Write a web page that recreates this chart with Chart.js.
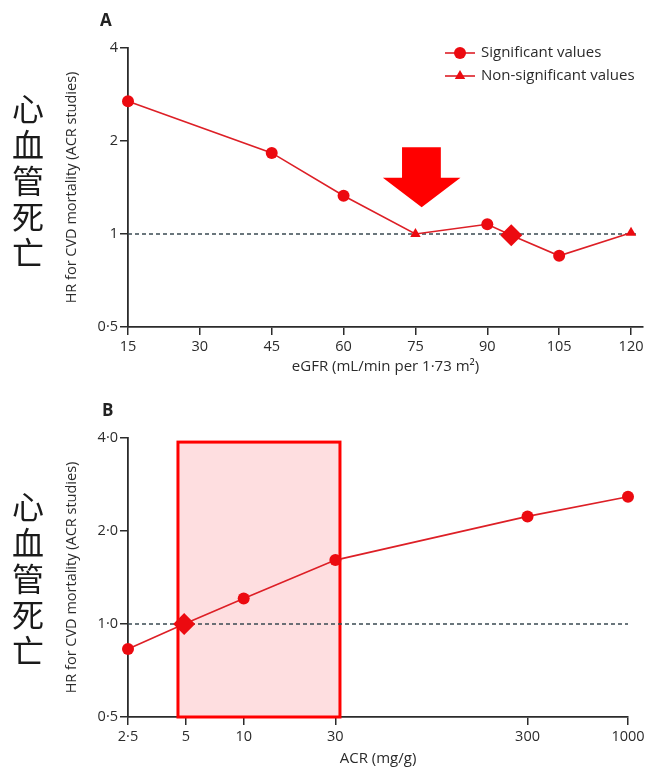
<!DOCTYPE html>
<html>
<head>
<meta charset="utf-8">
<script src="https://cdn.jsdelivr.net/npm/chart.js@4"></script>
<style>
  body { margin: 0; background: #fff; }
  #wrap { position: relative; width: 649px; height: 771px; overflow: hidden; }
  canvas { position: absolute; left: 0; }
  .cn { position: absolute; left: 10px; width: 36px; text-align: center; font-family: "Noto Sans CJK SC"; font-size: 32px; line-height: 36px; color: #1a1a1a; }
  .tag { position: absolute; font-family: "Open Sans", sans-serif; font-weight: bold; font-size: 17px; color: #222; }
</style>
</head>
<body>
<div id="wrap">
  <canvas id="chartA" width="649" height="385" style="top:0"></canvas>
  <canvas id="chartB" width="649" height="386" style="top:385px"></canvas>
  <div class="tag" style="left:100px;top:8px">A</div>
  <div class="tag" style="left:102px;top:398px">B</div>
  <div class="cn" style="top:89px">心<br>血<br>管<br>死<br>亡</div>
  <div class="cn" style="top:487px">心<br>血<br>管<br>死<br>亡</div>
</div>
<script>
// ── data ──────────────────────────────────────────────────────────────
const egfrX      = [15, 45, 60, 75, 90, 95, 105, 120];
const egfrHR     = [2.69, 1.83, 1.33, 1.0, 1.075, 0.99, 0.85, 1.01];
const egfrMarker = ['circle', 'circle', 'circle', 'triangle', 'circle', 'rectRot', 'circle', 'triangle'];
const egfrTicks  = [15, 30, 45, 60, 75, 90, 105, 120];
const egfrLabels = ['15', '30', '45', '60', '75', '90', '105', '120'];

const acrX      = [2.5, 4.9, 10, 30, 300, 1000];
const acrHR     = [0.83, 1.0, 1.21, 1.61, 2.23, 2.58];
const acrMarker = ['circle', 'rectRot', 'circle', 'circle', 'circle', 'circle'];
const acrTicks  = [2.5, 5, 10, 30, 300, 1000];
const acrLabels = ['2·5', '5', '10', '30', '300', '1000'];

const hrTicks   = [0.5, 1, 2, 4];
const hrLabelsA = ['0·5', '1', '2', '4'];
const hrLabelsB = ['0·5', '1·0', '2·0', '4·0'];

const refLineA = [15, 121.5];
const refLineB = [2.5, 1000];

// arrow on panel A (data units): shaft x, head x, y of top / neck / tip
const arrowShaftX = [72.2, 80.3];
const arrowHeadX  = [68.2, 84.4];
const arrowY      = [1.91, 1.52, 1.22];

// highlighted ACR range on panel B (data units)
const boxX = [4.55, 31.7];
const boxY = [0.5, 3.88];

const legendItems = [
  { text: 'Significant values', style: 'circle' },
  { text: 'Non-significant values', style: 'triangle' },
];

// ── style ─────────────────────────────────────────────────────────────
const FONT = '"Open Sans", Lato, sans-serif';
const INK = '#2b2b2b';
const LINE_RED = '#dd1f26';
const POINT_RED = '#ec0a10';
const DASH = '#3a4a52';

const sizeFor = s => s === 'rectRot' ? 11 : 6;

// arrow pointing at eGFR 75
const arrowPlugin = {
  id: 'arrowA',
  beforeDatasetsDraw(chart) {
    const { ctx, scales: { x, y } } = chart;
    const sx0 = x.getPixelForValue(arrowShaftX[0]), sx1 = x.getPixelForValue(arrowShaftX[1]);
    const hx0 = x.getPixelForValue(arrowHeadX[0]),  hx1 = x.getPixelForValue(arrowHeadX[1]);
    const yTop = y.getPixelForValue(arrowY[0]), yNeck = y.getPixelForValue(arrowY[1]), yTip = y.getPixelForValue(arrowY[2]);
    ctx.save();
    ctx.fillStyle = '#ff0000';
    ctx.beginPath();
    ctx.moveTo(sx0, yTop);
    ctx.lineTo(sx1, yTop);
    ctx.lineTo(sx1, yNeck);
    ctx.lineTo(hx1, yNeck);
    ctx.lineTo((hx0 + hx1) / 2, yTip);
    ctx.lineTo(hx0, yNeck);
    ctx.lineTo(sx0, yNeck);
    ctx.closePath();
    ctx.fill();
    ctx.restore();
  },
};

// pink box behind the ACR 5–30 range
const boxPlugin = {
  id: 'boxB',
  beforeDatasetsDraw(chart) {
    const { ctx, scales: { x, y } } = chart;
    const l = x.getPixelForValue(boxX[0]), r = x.getPixelForValue(boxX[1]);
    const t = y.getPixelForValue(boxY[1]), b = y.getPixelForValue(boxY[0]);
    ctx.save();
    ctx.fillStyle = 'rgba(250, 60, 70, 0.17)';
    ctx.fillRect(l, t, r - l, b - t);
    ctx.strokeStyle = '#ff0000';
    ctx.lineWidth = 3;
    ctx.strokeRect(l, t, r - l, b - t);
    ctx.restore();
  },
};

// legend with line + marker, like the original figure
const legendPlugin = {
  id: 'lineLegend',
  afterDraw(chart) {
    const { ctx, chartArea } = chart;
    const x0 = chartArea.right - 198;
    ctx.save();
    ctx.font = '15px ' + FONT;
    ctx.textBaseline = 'middle';
    legendItems.forEach((it, i) => {
      const yy = chartArea.top + 5 + i * 23;
      ctx.strokeStyle = LINE_RED;
      ctx.lineWidth = 1.6;
      ctx.beginPath();
      ctx.moveTo(x0, yy);
      ctx.lineTo(x0 + 30, yy);
      ctx.stroke();
      ctx.fillStyle = POINT_RED;
      Chart.helpers.drawPoint(ctx, { pointStyle: it.style, radius: 6, rotation: 0, borderWidth: 0 }, x0 + 15, yy);
      ctx.fillStyle = INK;
      ctx.fillText(it.text, x0 + 36, yy);
    });
    ctx.restore();
  },
};

function makePanel(canvas, cfg) {
  return new Chart(canvas, {
    type: 'line',
    data: {
      datasets: [
        {
          data: cfg.xs.map((v, i) => ({ x: v, y: cfg.ys[i] })),
          borderColor: LINE_RED,
          borderWidth: 1.6,
          backgroundColor: POINT_RED,
          pointBackgroundColor: POINT_RED,
          pointBorderWidth: 0,
          pointStyle: cfg.markers,
          pointRadius: cfg.markers.map(sizeFor),
          tension: 0,
          clip: false,
        },
        {
          data: cfg.ref.map(v => ({ x: v, y: 1 })),
          borderColor: DASH,
          borderWidth: 1.4,
          borderDash: [4, 3],
          pointRadius: 0,
          clip: false,
        },
      ],
    },
    plugins: cfg.plugins,
    options: {
      responsive: false,
      animation: false,
      events: [],
      layout: { padding: cfg.padding },
      plugins: { legend: { display: false }, tooltip: { enabled: false } },
      scales: {
        x: {
          type: cfg.xType,
          min: cfg.xMin,
          max: cfg.xMax,
          afterBuildTicks: s => { s.ticks = cfg.xTicks.map(v => ({ value: v })); },
          afterFit: s => { s.height = cfg.xHeight; },
          grid: { drawOnChartArea: false, drawTicks: true, tickLength: 8, color: INK, lineWidth: 1.5 },
          border: { color: INK, width: 1.8 },
          ticks: {
            padding: 3, color: INK, autoSkip: false, maxRotation: 0,
            font: { family: FONT, size: 14.5 },
            callback: (v, i) => cfg.xLabels[i],
          },
          title: {
            display: true, text: cfg.xTitle, color: INK,
            font: { family: FONT, size: 15 }, padding: { top: 0, bottom: 3 },
          },
        },
        y: {
          type: 'logarithmic',
          min: 0.5,
          max: 4,
          afterBuildTicks: s => { s.ticks = hrTicks.map(v => ({ value: v })); },
          afterFit: s => { s.width = 68; },
          grid: { drawOnChartArea: false, drawTicks: true, tickLength: 8, color: INK, lineWidth: 1.5 },
          border: { color: INK, width: 1.8 },
          ticks: {
            padding: 2, color: INK,
            font: { family: FONT, size: 14.5 },
            callback: (v, i) => cfg.yLabels[i],
          },
          title: {
            display: true, text: 'HR for CVD mortality (ACR studies)', color: INK,
            font: { family: FONT, size: 14.5 }, padding: { top: 3, bottom: 0 },
          },
        },
      },
    },
  });
}

makePanel(document.getElementById('chartA'), {
  xs: egfrX, ys: egfrHR, markers: egfrMarker, ref: refLineA,
  xType: 'linear', xMin: 15, xMax: 122.5,
  xTicks: egfrTicks, xLabels: egfrLabels, yLabels: hrLabelsA,
  xTitle: 'eGFR (mL/min per 1·73 m²)', xHeight: 52,
  padding: { top: 48, left: 60, right: 4, bottom: 6 },
  plugins: [arrowPlugin, legendPlugin],
});

makePanel(document.getElementById('chartB'), {
  xs: acrX, ys: acrHR, markers: acrMarker, ref: refLineB,
  xType: 'logarithmic', xMin: 2.5, xMax: 1000,
  xTicks: acrTicks, xLabels: acrLabels, yLabels: hrLabelsB,
  xTitle: 'ACR (mg/g)', xHeight: 54,
  padding: { top: 53, left: 60, right: 21, bottom: 0 },
  plugins: [boxPlugin],
});
</script>
</body>
</html>
